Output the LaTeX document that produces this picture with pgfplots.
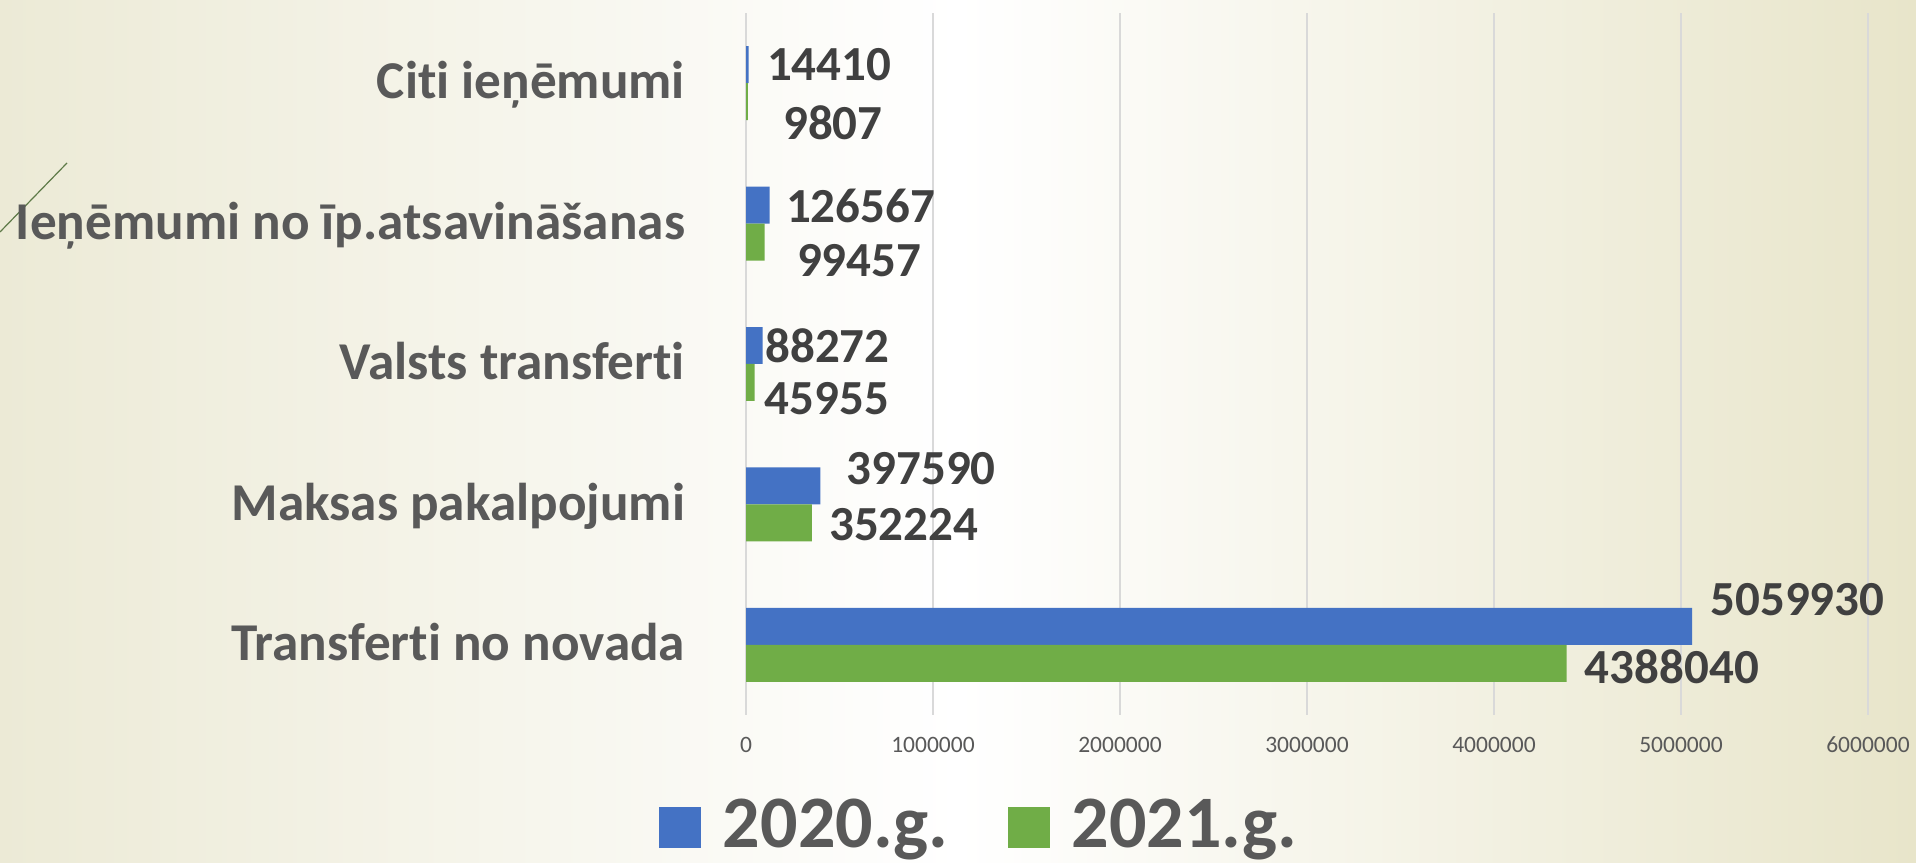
\documentclass[border=0pt]{standalone}
\usepackage{pgfplots}
\pgfplotsset{compat=1.18}
\usepackage{pgfplotstable}
\usepackage{fontspec}
\setmainfont{Carlito}[Ligatures=NoCommon]
\definecolor{blueS}{HTML}{4472C4}
\definecolor{greenS}{HTML}{70AD47}
\definecolor{catgray}{HTML}{595959}
\definecolor{labgray}{HTML}{404040}
\definecolor{gridgray}{HTML}{D9D9D9}
\definecolor{bgL}{HTML}{ECEAD6}
\definecolor{bgR}{HTML}{E8E5CA}
\definecolor{deco}{HTML}{5E7A48}

\pgfplotstableread{
y x lab dx dy
0 5059930 5059930 9 13.25
1 397590 397590 13 8.5
2 88272 88272 1.25 0
3 126567 126567 8 -0.5
4 14410 14410 9 0
}\dataA
\pgfplotstableread{
y x lab dx dy
0 4388040 4388040 9 -1.75
1 352224 352224 8.5 -1
2 45955 45955 5 -8.25
3 99457 99457 16 -9.5
4 9807 9807 17.5 -10.3
}\dataB

\begin{document}
\begin{tikzpicture}
\shade[left color=bgL, right color=bgR, middle color=white] (0pt,0pt) rectangle (958pt,431pt);
\draw[deco, line width=0.6pt] (0pt,315pt) -- (33.5pt,349.5pt);
\begin{axis}[
  at={(373pt,73.5pt)}, anchor=south west,
  scale only axis, width=561pt, height=351pt,
  xbar, bar width=0.2635,
  xmin=0, xmax=6000000, ymin=-0.5, ymax=4.5,
  clip=false,
  axis line style={draw=none},
  major tick length=0pt,
  scaled x ticks=false,
  xtick={0,1000000,2000000,3000000,4000000,5000000,6000000},
  xticklabels={0,1000000,2000000,3000000,4000000,5000000,6000000},
  xticklabel style={anchor=base, inner sep=0pt, yshift=-19pt, text=catgray, font=\fontsize{11.75}{11.75}\selectfont},
  ytick={0,1,2,3,4},
  yticklabels={Transferti no novada, Maksas pakalpojumi, Valsts transferti, Ieņēmumi no īp.atsavināšanas, Citi ieņēmumi},
  yticklabel style={anchor=base east, inner sep=0pt, xshift=-30.3pt, yshift=-7.9pt, text=catgray, font=\bfseries\fontsize{26.6}{26.6}\selectfont},
  xmajorgrids, major grid style={gridgray, line width=0.75pt},
  point meta=explicit symbolic,
  nodes near coords,
  nodes near coords style={anchor=west, inner sep=0pt, text=labgray, font=\bfseries\fontsize{24.5}{24.5}\selectfont, xshift=\dx pt, yshift=\dy pt},
  legend columns=2,
  legend image code/.code={\fill[#1, draw=none] (0pt,-11.5pt) rectangle (21pt,9pt);},
  legend style={at={(axis description cs:0,0)}, anchor=north west, xshift=-43.5pt, yshift=-42pt,
    draw=none, fill=none, inner sep=0pt, outer sep=0pt,
    nodes={inner sep=0pt, text=catgray, font=\bfseries\fontsize{37}{37}\selectfont},
    /tikz/every odd column/.append style={column sep=11pt},
    /tikz/every even column/.append style={column sep=29.5pt}},
]
\addplot[fill=blueS, draw=none, bar shift=0.13175,
  visualization depends on={\thisrow{dx}\as\dx},
  visualization depends on={\thisrow{dy}\as\dy}]
  table[x=x, y=y, meta=lab]{\dataA};
\addlegendentry{2020.g.}
\addplot[fill=greenS, draw=none, bar shift=-0.13175,
  visualization depends on={\thisrow{dx}\as\dx},
  visualization depends on={\thisrow{dy}\as\dy}]
  table[x=x, y=y, meta=lab]{\dataB};
\addlegendentry{2021.g.}
\end{axis}
\pgfresetboundingbox
\path[use as bounding box] (0pt,0pt) rectangle (958pt,431pt);
\end{tikzpicture}
\end{document}
